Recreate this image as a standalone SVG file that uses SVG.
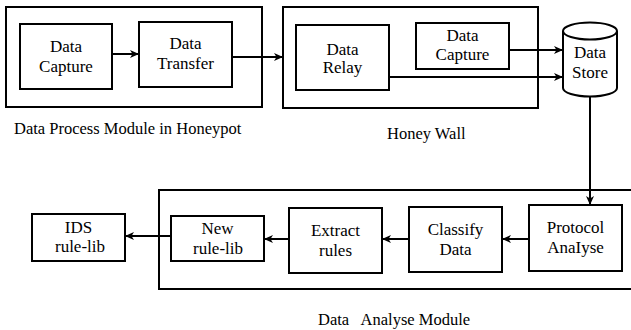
<svg xmlns="http://www.w3.org/2000/svg" width="631" height="330" viewBox="0 0 631 330" font-family="Liberation Serif, serif">
<style>
.box{fill:#fff;stroke:#000;stroke-width:2}
.grp{fill:none;stroke:#000;stroke-width:2}
text{fill:#000}
.t{font-size:17px;text-anchor:middle}
.lbl{font-size:16.5px;white-space:pre}
.c{fill:none;stroke:#000;stroke-width:2}
</style>
<defs>
<marker id="ah" markerUnits="userSpaceOnUse" markerWidth="10" markerHeight="10" refX="9" refY="4" orient="auto">
<path d="M0,0 L9,4 L0,8 L2.5,4 z" fill="#000"/>
</marker>
</defs>
<g id="module-honeypot">
<rect class="grp" x="6" y="7" width="256" height="100"/>
<text class="lbl" x="14" y="134">Data Process Module in Honeypot</text>
</g>
<g id="module-honeywall">
<rect class="grp" x="283" y="7" width="255" height="101"/>
<text class="lbl" x="387" y="139">Honey Wall</text>
</g>
<g id="module-analyse">
<rect class="grp" x="159" y="190" width="490" height="99"/>
<text class="lbl" x="318" y="325" xml:space="preserve">Data   Analyse Module</text>
</g>
<g id="data-capture-1">
<rect class="box" x="20" y="24" width="92" height="65"/>
<text class="t" x="66" y="52">Data</text>
<text class="t" x="66" y="72">Capture</text>
</g>
<g id="data-transfer">
<rect class="box" x="139" y="22" width="93" height="65"/>
<text class="t" x="185.5" y="49">Data</text>
<text class="t" x="185.5" y="69">Transfer</text>
</g>
<g id="data-relay">
<rect class="box" x="296" y="25" width="93" height="65"/>
<text class="t" x="342.5" y="55">Data</text>
<text class="t" x="342.5" y="73">Relay</text>
</g>
<g id="data-capture-2">
<rect class="box" x="416" y="23" width="93" height="46"/>
<text class="t" x="462.5" y="41">Data</text>
<text class="t" x="462.5" y="60">Capture</text>
</g>
<g id="data-store">
<path class="box" d="M563,31 L563,88 A27,8.5 0 0 0 617,88 L617,31 A27,8.5 0 0 0 563,31 Z"/>
<path class="grp" d="M563,31 A27,8.5 0 0 0 617,31"/>
<text class="t" x="590" y="58">Data</text>
<text class="t" x="590" y="78">Store</text>
</g>
<g id="ids-rule-lib">
<rect class="box" x="32" y="214" width="93" height="47"/>
<text class="t" x="78.5" y="233">IDS</text>
<text class="t" x="80" y="252">rule-lib</text>
</g>
<g id="new-rule-lib">
<rect class="box" x="171" y="216" width="93" height="45"/>
<text class="t" x="217.5" y="234">New</text>
<text class="t" x="218" y="254">rule-lib</text>
</g>
<g id="extract-rules">
<rect class="box" x="289" y="208" width="93" height="65"/>
<text class="t" x="335.5" y="236">Extract</text>
<text class="t" x="335.5" y="256">rules</text>
</g>
<g id="classify-data">
<rect class="box" x="409" y="207" width="93" height="65"/>
<text class="t" x="455.5" y="235">Classify</text>
<text class="t" x="455.5" y="255">Data</text>
</g>
<g id="protocol-analyse">
<rect class="box" x="529" y="205" width="93" height="66"/>
<text class="t" x="575.5" y="233">Protocol</text>
<text class="t" x="575.5" y="253">AnaIyse</text>
</g>
<g id="connectors">
<line class="c" x1="112" y1="54" x2="139" y2="54" marker-end="url(#ah)"/>
<line class="c" x1="232" y1="57" x2="283" y2="57" marker-end="url(#ah)"/>
<line class="c" x1="509" y1="50" x2="563" y2="50" marker-end="url(#ah)"/>
<line class="c" x1="389" y1="77" x2="563" y2="77" marker-end="url(#ah)"/>
<line class="c" x1="590" y1="97" x2="590" y2="205" marker-end="url(#ah)"/>
<line class="c" x1="529" y1="239" x2="502" y2="239" marker-end="url(#ah)"/>
<line class="c" x1="409" y1="239" x2="382" y2="239" marker-end="url(#ah)"/>
<line class="c" x1="289" y1="239" x2="264" y2="239" marker-end="url(#ah)"/>
<line class="c" x1="171" y1="236" x2="125" y2="236" marker-end="url(#ah)"/>
</g>
</svg>
